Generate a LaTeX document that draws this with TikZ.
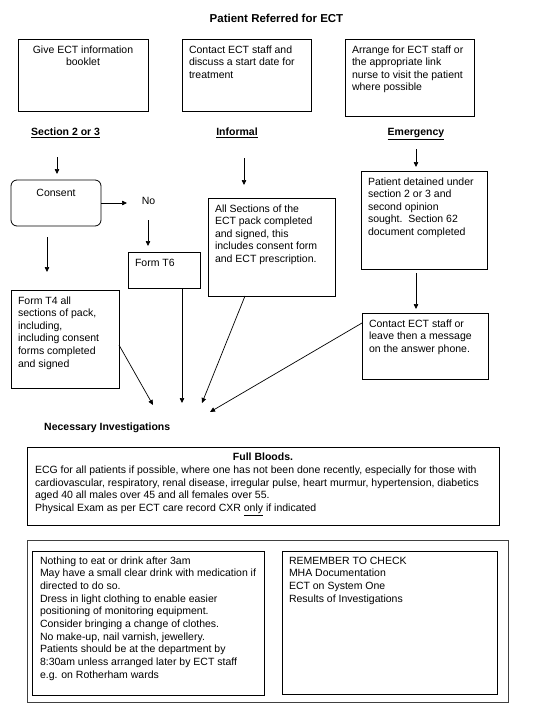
\documentclass[tikz,border=0pt]{standalone}
\usepackage{fontspec}
\setmainfont{Liberation Sans}
\usetikzlibrary{arrows.meta}
\newcommand{\bt}[3]{\parbox[c][#2][t]{#1}{\raggedright\rule{0pt}{14pt}#3}}
\newcommand{\ct}[3]{\parbox[c][#2][t]{#1}{\centering\rule{0pt}{14pt}#3}}
\begin{document}
\begin{tikzpicture}[x=1pt,y=-1pt,
  font=\fontsize{10.5}{12.65}\selectfont,
  box/.style={draw=black, line width=0.8pt, anchor=north west, inner xsep=7pt, inner ysep=0pt, outer sep=0pt},
  lbl/.style={font=\fontsize{10.5}{12.65}\selectfont\bfseries, inner sep=0pt},
  arr/.style={-{Triangle[length=5pt,width=4.5pt]}, line width=0.7pt}]
\useasboundingbox (0,0) rectangle (548,713);
\node[lbl, font=\fontsize{11.5}{13}\selectfont\bfseries, anchor=base] (title) at (276.5,22) {Patient Referred for ECT};
% top row
\node[box] (give) at (18,39) {\ct{116pt}{72pt}{Give ECT information\\booklet}};
\node[box] (contact1) at (182,39) {\bt{115pt}{72pt}{Contact ECT staff and\\discuss a start date for\\treatment}};
\node[box] (arrange) at (345,39) {\bt{115pt}{77pt}{Arrange for ECT staff or\\the appropriate link\\nurse to visit the patient\\where possible}};
% headings
\node[lbl, anchor=base west] (sec) at (31,135.5) {\underline{Section 2 or 3}};
\node[lbl, anchor=base] (inf) at (237,135.5) {\underline{Informal}};
\node[lbl, anchor=base] (emg) at (416,135.5) {\underline{Emergency}};
% section 2 or 3 branch
\node[box, rounded corners=6pt] (consent) at (11,180) {\parbox[c][46pt][t]{76pt}{\centering\rule{0pt}{16.5pt}Consent}};
\node[inner sep=0pt, anchor=base] (no) at (148.5,204) {No};
\node[box] (t6) at (128,252) {\bt{58pt}{36pt}{Form T6}};
\node[box] (t4) at (11,290) {\bt{94pt}{98pt}{Form T4 all\\sections of pack,\\including,\\including consent\\forms completed\\and signed}};
% informal
\node[box] (allsec) at (208,198) {\bt{113pt}{98pt}{All Sections of the\\ECT pack completed\\and signed, this\\includes consent form\\and ECT prescription.}};
% emergency
\node[box] (detained) at (361,171) {\bt{112pt}{98pt}{Patient detained under\\section 2 or 3 and\\second opinion\\sought.\ \ Section 62\\document completed}};
\node[box] (contact2) at (362,313) {\bt{112pt}{66pt}{Contact ECT staff or\\leave then a message\\on the answer phone.}};
% necessary investigations
\node[lbl, anchor=base west] (nec) at (44,430) {Necessary Investigations};
\node[box, inner xsep=8pt] (blood) at (27,447) {\parbox[c][78pt][t]{456pt}{\centering\rule{0pt}{13pt}\textbf{Full Bloods.}\par\raggedright\vspace{1pt}ECG for all patients if possible, where one has not been done recently, especially for those with\\cardiovascular, respiratory, renal disease, irregular pulse, heart murmur, hypertension, diabetics\\aged 40 all males over 45 and all females over 55.\\Physical Exam as per ECT care record CXR \underline{only} if indicated}};
% bottom
\node[box, draw=black!75, minimum width=481pt, minimum height=162pt, inner sep=0pt] (outer) at (27,540) {};
\node[box, inner xsep=8pt] (nothing) at (32,551) {\parbox[c][144pt][t]{216pt}{\raggedright\rule{0pt}{13.3pt}Nothing to eat or drink after 3am\\May have a small clear drink with medication if\\directed to do so.\\Dress in light clothing to enable easier\\positioning of monitoring equipment.\\Consider bringing a change of clothes.\\No make-up, nail varnish, jewellery.\\Patients should be at the department by\\8:30am unless arranged later by ECT staff\\e.g. on Rotherham wards}};
\node[box] (remember) at (282,551) {\parbox[c][143pt][t]{201pt}{\raggedright\rule{0pt}{13.3pt}REMEMBER TO CHECK\\MHA Documentation\\ECT on System One\\Results of Investigations}};
% arrow coordinates
\coordinate (a1s) at (57,157); \coordinate (a1e) at (57,174);
\coordinate (a2e) at (127,203);
\coordinate (a3s) at (148,220); \coordinate (a3e) at (148,246);
\coordinate (a4s) at (47,237); \coordinate (a4e) at (47,272);
\coordinate (t4out) at (119,345); \coordinate (a5e) at (153,405);
\coordinate (t6out) at (182,288); \coordinate (a6e) at (182,403);
\coordinate (allout) at (245,296); \coordinate (a7e) at (202,403);
\coordinate (c2out) at (362,323); \coordinate (a8e) at (210,412);
\coordinate (a9s) at (244,158); \coordinate (a9e) at (244,185);
\coordinate (a10s) at (416,149); \coordinate (a10e) at (416,167);
\coordinate (a11s) at (416,273); \coordinate (a11e) at (416,309);
% arrows
\draw[arr] (a1s) -- (a1e);
\draw[arr] (consent.east |- a2e) -- (a2e);
\draw[arr] (a3s) -- (a3e);
\draw[arr] (a4s) -- (a4e);
\draw[arr] (t4out) -- (a5e);
\draw[arr] (t6out) -- (a6e);
\draw[arr] (allout) -- (a7e);
\draw[arr] (c2out) -- (a8e);
\draw[arr] (a9s) -- (a9e);
\draw[arr] (a10s) -- (a10e);
\draw[arr] (a11s) -- (a11e);
\end{tikzpicture}
\end{document}
